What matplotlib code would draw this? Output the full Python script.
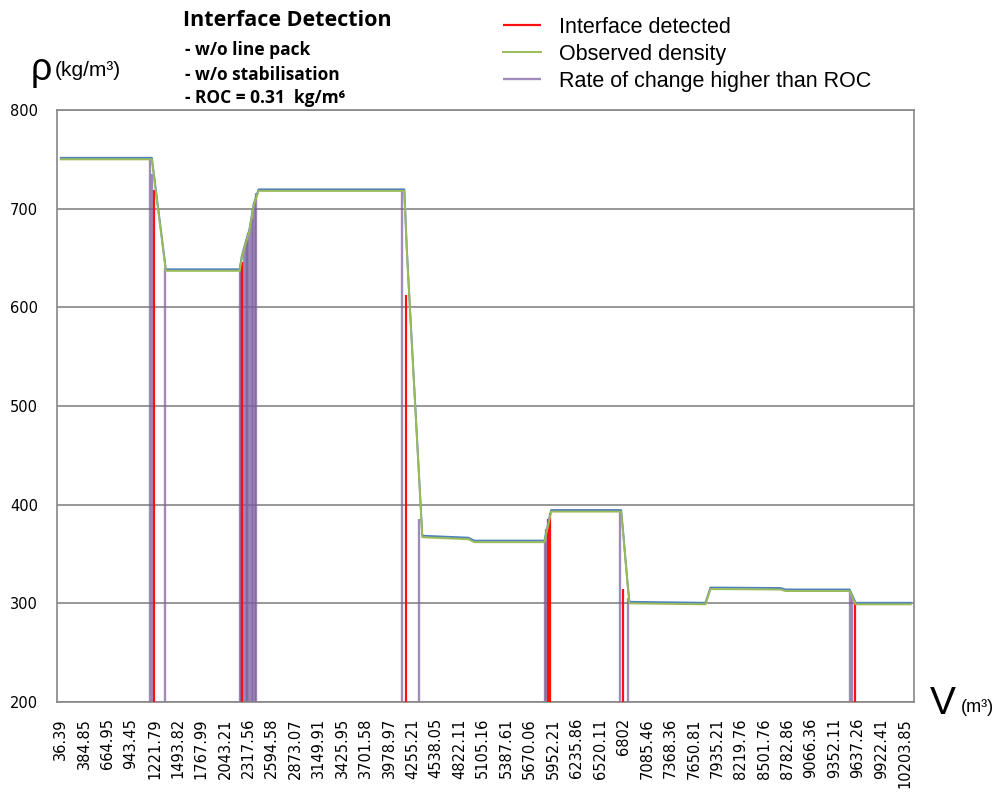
import numpy as np
import matplotlib
matplotlib.use("Agg")
import matplotlib.pyplot as plt
import matplotlib.transforms as mtransforms

# category labels along the volume axis (every third sample)
tick_vol = [36.39, 384.85, 664.95, 943.45, 1221.79, 1493.82, 1767.99, 2043.21,
            2317.56, 2594.58, 2873.07, 3149.91, 3425.95, 3701.58, 3978.97,
            4255.21, 4538.05, 4822.11, 5105.16, 5387.61, 5670.06, 5952.21,
            6235.86, 6520.11, 6802, 7085.46, 7368.36, 7650.81, 7935.21,
            8219.76, 8501.76, 8782.86, 9066.36, 9352.11, 9637.26, 9922.41,
            10203.85]
tick_lbl = ["36.39", "384.85", "664.95", "943.45", "1221.79", "1493.82",
            "1767.99", "2043.21", "2317.56", "2594.58", "2873.07", "3149.91",
            "3425.95", "3701.58", "3978.97", "4255.21", "4538.05", "4822.11",
            "5105.16", "5387.61", "5670.06", "5952.21", "6235.86", "6520.11",
            "6802", "7085.46", "7368.36", "7650.81", "7935.21", "8219.76",
            "8501.76", "8782.86", "9066.36", "9352.11", "9637.26", "9922.41",
            "10203.85"]

# observed density along the batch
vol = [36.39, 1189.5, 1352.6, 2216.3, 2240, 2290, 2330, 2380, 2438.9, 4159.1,
       4187.5, 4205.5, 4374.0, 4931.4, 5003.3, 5846.9, 5927.7, 6773.8, 6797.9,
       6825.5, 6853.3, 6874.0, 7792.2, 7852.7, 8698.5, 8757.6, 9536.0, 9608.8,
       10274.8]
rho = [750, 750, 637, 637, 650, 666, 677, 703, 718, 718,
       660, 630, 367, 365, 362, 362, 393, 393, 371,
       344, 317, 300, 299, 314.5, 314, 312.5, 312.5, 299,
       299]

# samples where the rate of change exceeded ROC
roc_vol = [1169.2, 1193.1, 1341.0, 2216.3, 2228.1, 2269.0, 2286.5, 2298.3,
           2319.5, 2333.6, 2357.2, 2374.9, 2392.6, 2410.3, 4132.0, 4334.1,
           5852.9, 5871.0, 6765.6, 6858.7, 9542.0, 9566.3]
roc_rho = [750, 735, 640, 637, 645, 660, 665, 668,
           675, 680, 690, 700, 708, 716, 718, 385,
           362, 375, 393, 305, 312, 308]

# samples flagged as interfaces
ifc_vol = [1217.1, 2249.2, 4179.2, 5895.2, 5919.2, 6801.5, 9597.1]
ifc_rho = [719, 646, 613, 385, 392, 315, 300]

tv = np.array(tick_vol)
ti = np.arange(len(tv), dtype=float)


def vol_to_cat(v):
    v = np.asarray(v, dtype=float)
    out = np.interp(v, tv, ti)
    lo = v < tv[0]
    hi = v > tv[-1]
    out[lo] = (v[lo] - tv[0]) / (tv[1] - tv[0])
    out[hi] = ti[-1] + (v[hi] - tv[-1]) / (tv[-1] - tv[-2])
    return out


def cat_to_vol(c):
    c = np.asarray(c, dtype=float)
    out = np.interp(c, ti, tv)
    lo = c < 0
    hi = c > ti[-1]
    out[lo] = tv[0] + c[lo] * (tv[1] - tv[0])
    out[hi] = tv[-1] + (c[hi] - ti[-1]) * (tv[-1] - tv[-2])
    return out


fig = plt.figure(figsize=(10, 7.92), dpi=100)
ax = fig.add_axes([0.057, 0.1136, 0.857, 0.7475])
ax.set_xscale("function", functions=(vol_to_cat, cat_to_vol))

grey = "#868686"
purple = ax.vlines(roc_vol, 0, roc_rho, color="#7b5e9e", alpha=0.72, lw=1.7,
                   label="Rate of change higher than ROC", zorder=2)
red = ax.vlines(ifc_vol, 0, ifc_rho, color="#ff0f0f", lw=1.6,
                label="Interface detected", zorder=3)
shift = mtransforms.offset_copy(ax.transData, fig=fig, x=0, y=1.1, units="points")
ax.plot(vol, rho, color="#4f81bd", lw=1.4, transform=shift, zorder=4)
green, = ax.plot(vol, rho, color="#9bbb59", lw=1.4, label="Observed density", zorder=5)

ax.set_xlim(cat_to_vol([-0.16])[0], cat_to_vol([36.39])[0])
ax.set_ylim(200, 800)
ax.set_yticks([200, 300, 400, 500, 600, 700, 800])
ax.set_xticks(tick_vol)
ax.set_xticklabels(tick_lbl, rotation=90, va="top", ha="center")
ax.minorticks_off()
ax.tick_params(axis="x", length=0, pad=11.5, labelsize=10.5)
ax.tick_params(axis="y", length=0, pad=13.5, labelsize=10.5)
ax.yaxis.grid(True, color=grey, lw=1.2)
ax.set_axisbelow(True)
for s in ax.spines.values():
    s.set_color(grey)
    s.set_linewidth(1.2)

fig.legend(handles=[red, green, purple], loc="upper left",
           bbox_to_anchor=(0.503, 0.979), frameon=False, borderpad=0,
           borderaxespad=0, handlelength=1.75, handletextpad=0.85,
           labelspacing=0.28, prop={"family": "Liberation Sans", "size": 15.5})

fig.text(0.183, 1 - 20 / 792, "Interface Detection", ha="left", va="center",
         fontsize=15.5, fontweight="bold", family="Open Sans")
for y, s in [(50, "- w/o line pack"), (75, "- w/o stabilisation"),
             (98, "- ROC = 0.31  kg/m⁶")]:
    fig.text(0.185, 1 - y / 792, s, ha="left", va="center", fontsize=12.5,
             fontweight="bold", family=["Open Sans", "DejaVu Sans"])

fig.text(0.041, 1 - 70 / 792, "ρ", ha="center", va="center", fontsize=27,
         family="Liberation Sans")
fig.text(0.055, 1 - 70 / 792, "(kg/m³)", ha="left", va="center", fontsize=15,
         family="Liberation Sans")
fig.text(0.930, 1 - 704 / 792, "V", ha="left", va="center", fontsize=28,
         family="Liberation Sans")
fig.text(0.961, 1 - 708 / 792, "(m³)", ha="left", va="center", fontsize=13,
         family="Liberation Sans")

fig.savefig("out.png", dpi=100)
